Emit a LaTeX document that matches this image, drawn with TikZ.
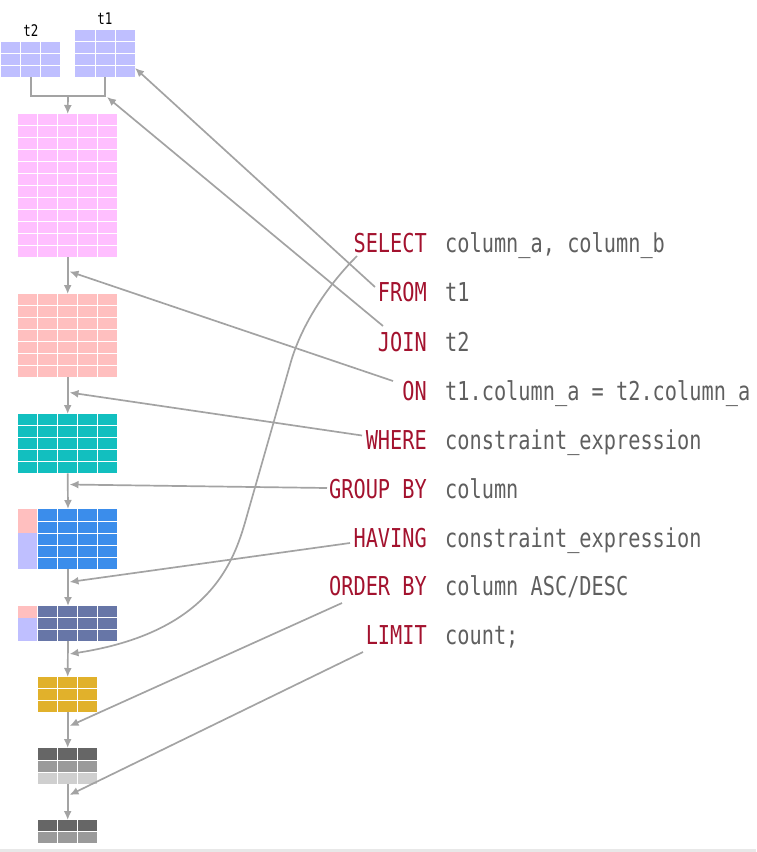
\documentclass[tikz,border=0pt]{standalone}
\usepackage{fontspec}
\usetikzlibrary{arrows.meta}
\newfontfamily\codefont[FakeStretch=0.78]{DejaVu Sans Mono}
\definecolor{kwred}{HTML}{A3122E}
\definecolor{valgray}{HTML}{5F5F5F}
\definecolor{linkgray}{HTML}{A3A3A3}
\definecolor{lav}{HTML}{BFBFFF}
\definecolor{pinkc}{HTML}{FFBFFF}
\definecolor{salmon}{HTML}{FFBFBF}
\definecolor{tealc}{HTML}{12BFBF}
\definecolor{bluec}{HTML}{3B8DEB}
\definecolor{slatec}{HTML}{6776A7}
\definecolor{yellowc}{HTML}{E1B12B}
\definecolor{darkc}{HTML}{666666}
\definecolor{midc}{HTML}{9A9A9A}
\definecolor{lightc}{HTML}{CFCFCF}
\tikzset{
  cellline/.style={white, line width=0.9pt},
  link/.style={linkgray, line width=1.7pt},
  arrowlink/.style={link, -{Latex[length=9pt,width=8pt]}},
  kwnode/.style={anchor=base east, inner sep=0pt, text=kwred, font=\codefont\fontsize{26}{26}\selectfont},
  valnode/.style={anchor=base west, inner sep=0pt, text=valgray, font=\codefont\fontsize{26}{26}\selectfont},
  tname/.style={anchor=base, inner sep=0pt, text=black, font=\codefont\fontsize{16}{16}\selectfont},
  box/.style={draw=none, inner sep=0pt, anchor=north west}
}
% name, x0, y0, x1, y1, cols, rows, colour
\newcommand{\gridtab}[8]{%
  \fill[#8] (#2,#3) rectangle (#4,#5);
  \foreach \ci in {1,...,#6}{\ifnum\ci<#6 \draw[cellline] ({#2+(#4-#2)*\ci/#6},#3) -- ({#2+(#4-#2)*\ci/#6},#5);\fi}
  \foreach \ri in {1,...,#7}{\ifnum\ri<#7 \draw[cellline] (#2,{#3+(#5-#3)*\ri/#7}) -- (#4,{#3+(#5-#3)*\ri/#7});\fi}
  \node[box, minimum width={(#4-#2)*1pt}, minimum height={(#5-#3)*1pt}] (#1) at (#2,#3) {};
}
\begin{document}
\begin{tikzpicture}[x=1pt, y=-1pt]
\useasboundingbox (0,0) rectangle (756,852);
\fill[gray!18] (0,848.5) rectangle (756,852);

% source tables
\gridtab{t2}{1}{42}{60}{77}{3}{3}{lav}
\gridtab{t1}{75}{30}{135}{77}{3}{4}{lav}
\node[tname] (lt2) at (31,36) {t2};
\node[tname] (lt1) at (105,24) {t1};

% pipeline tables
\gridtab{pink}{18}{114}{117}{257}{5}{12}{pinkc}
\gridtab{sal}{18}{294}{117}{377}{5}{7}{salmon}
\gridtab{teal}{18}{414}{117}{473}{5}{5}{tealc}
% grouped (blue)
\fill[salmon] (18,509) rectangle (37,533);
\fill[lav] (18,533) rectangle (37,569);
\gridtab{blueg}{37}{509}{117}{569}{4}{5}{bluec}
\draw[cellline] (37,509) -- (37,569);
\node[box, minimum width=99pt, minimum height=60pt] (blue) at (18,509) {};
% having (slate)
\fill[salmon] (18,606) rectangle (37,617.7);
\fill[lav] (18,617.7) rectangle (37,641);
\gridtab{slateg}{37}{606}{117}{641}{4}{3}{slatec}
\draw[cellline] (37,606) -- (37,641);
\node[box, minimum width=99pt, minimum height=35pt] (slate) at (18,606) {};
% select (yellow)
\gridtab{yel}{38}{677}{97}{712}{3}{3}{yellowc}
% order by (gray)
\fill[darkc] (38,748) rectangle (97,760);
\fill[midc] (38,760) rectangle (97,772);
\fill[lightc] (38,772) rectangle (97,784);
\gridtab{grayt}{38}{748}{97}{784}{3}{3}{white,opacity=0}
% limit
\fill[darkc] (38,820) rectangle (97,831.5);
\fill[midc] (38,831.5) rectangle (97,843);
\gridtab{lastt}{38}{820}{97}{843}{3}{2}{white,opacity=0}

% join connector
\coordinate (jn) at (68,96);
\draw[link] (t2.south) |- (jn) -| (t1.south);
\draw[arrowlink] (jn) -- (pink.north);
% spine
\draw[arrowlink] (pink.south) -- (sal.north);
\draw[arrowlink] (sal.south) -- (teal.north);
\draw[arrowlink] (teal.south) -- (68,509);
\draw[arrowlink] (68,569) -- (68,606);
\draw[arrowlink] (68,641) -- (yel.north);
\draw[arrowlink] (yel.south) -- (grayt.north);
\draw[arrowlink] (grayt.south) -- (lastt.north);

% SQL text
\node[kwnode] (kSELECT) at (427,252) {SELECT};
\node[valnode] (vSELECT) at (445,252) {column\_a, column\_b};
\node[kwnode] (kFROM) at (427,301.5) {FROM};
\node[valnode] (vFROM) at (445,301.5) {t1};
\node[kwnode] (kJOIN) at (427,351) {JOIN};
\node[valnode] (vJOIN) at (445,351) {t2};
\node[kwnode] (kON) at (427,400) {ON};
\node[valnode] (vON) at (445,400) {t1.column\_a = t2.column\_a};
\node[kwnode] (kWHERE) at (427,449) {WHERE};
\node[valnode] (vWHERE) at (445,449) {constraint\_expression};
\node[kwnode] (kGROUP) at (427,498) {GROUP BY};
\node[valnode] (vGROUP) at (445,498) {column};
\node[kwnode] (kHAVING) at (427,547) {HAVING};
\node[valnode] (vHAVING) at (445,547) {constraint\_expression};
\node[kwnode] (kORDER) at (427,595.5) {ORDER BY};
\node[valnode] (vORDER) at (445,595.5) {column ASC/DESC};
\node[kwnode] (kLIMIT) at (427,644) {LIMIT};
\node[valnode] (vLIMIT) at (445,644) {count;};

% feed connectors
\coordinate (sFROM) at (375,287);
\coordinate (sJOIN) at (383,326);
\coordinate (sON) at (393,381);
\coordinate (sWHERE) at (362,435.5);
\coordinate (sGROUP) at (327,488);
\coordinate (sHAVING) at (350,543);
\coordinate (sORDER) at (342,603);
\coordinate (sLIMIT) at (363,652);
\coordinate (eFROM) at (135,68);
\coordinate (eJOIN) at (107,97);
\coordinate (eON) at (69.5,271.5);
\coordinate (eWHERE) at (69.5,392.5);
\coordinate (eGROUP) at (69.5,484.5);
\coordinate (eHAVING) at (69.5,582);
\coordinate (eSELECT) at (69.5,654);
\coordinate (eORDER) at (69.5,726);
\coordinate (eLIMIT) at (69.5,795);
\draw[arrowlink] (sFROM) -- (eFROM);
\draw[arrowlink] (sJOIN) -- (eJOIN);
\draw[arrowlink] (sON) -- (eON);
\draw[arrowlink] (sWHERE) -- (eWHERE);
\draw[arrowlink] (sGROUP) -- (eGROUP);
\draw[arrowlink] (sHAVING) -- (eHAVING);
\draw[arrowlink] (sORDER) -- (eORDER);
\draw[arrowlink] (sLIMIT) -- (eLIMIT);
\coordinate (sSELECT) at (357,256);
\coordinate (cA) at (290,365);
\coordinate (cB) at (250,505);
\draw[arrowlink] (sSELECT) .. controls (325,288) and (300,328) .. (cA) -- (cB) .. controls (238,545) and (225,630) .. (eSELECT);
\end{tikzpicture}
\end{document}
